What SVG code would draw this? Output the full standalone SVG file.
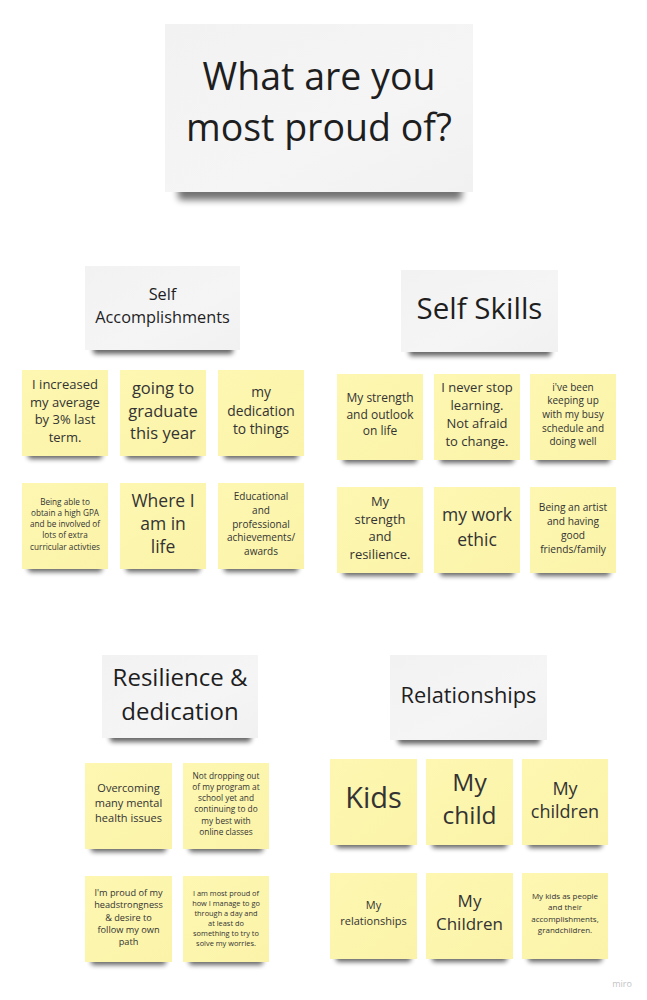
<svg xmlns="http://www.w3.org/2000/svg" width="647" height="1000" viewBox="0 0 647 1000">
<defs>
<filter id="blur" x="-20%" y="-100%" width="140%" height="300%"><feGaussianBlur stdDeviation="2.5"/></filter>
<filter id="blur2" x="-20%" y="-100%" width="140%" height="300%"><feGaussianBlur stdDeviation="3.5"/></filter>
<linearGradient id="cardg" x1="0" y1="0" x2="1" y2="1"><stop offset="0" stop-color="#f2f2f3"/><stop offset="0.6" stop-color="#f5f5f6"/><stop offset="1" stop-color="#f1f1f2"/></linearGradient>
<linearGradient id="noteg" x1="0" y1="0" x2="1" y2="1"><stop offset="0" stop-color="#fdf7b2"/><stop offset="1" stop-color="#fbf3a8"/></linearGradient>
</defs>
<style>
text{font-family:'Open Sans','Liberation Sans',sans-serif;text-anchor:middle;fill:#333333}
.card{fill:url(#cardg)}
.note{fill:url(#noteg)}
.sh{fill:#000;opacity:.6;filter:url(#blur)}
.shc{fill:#000;opacity:.55;filter:url(#blur2)}
.ht{fill:#1e1e1e}
</style>
<rect width="647" height="1000" fill="#ffffff"/>
<g id="connectors"/>

<g id="title">
<rect class="shc" x="178" y="180" width="284" height="20" rx="4"/>
<rect class="card" x="165" y="24" width="308" height="168"/>
<text class="ht" font-size="37.5" x="319" y="90">What are you<tspan x="319" dy="50.7">most proud of?</tspan></text>
</g>

<g id="hdr-self-accomplishments">
<rect class="sh" x="93" y="342" width="140" height="12" rx="3"/>
<rect class="card" x="85" y="266" width="155" height="84"/>
<text class="ht" font-size="16.3" x="162.5" y="300">Self<tspan x="162.5" dy="22.7">Accomplishments</tspan></text>
</g>

<g id="hdr-self-skills">
<rect class="sh" x="409" y="344" width="142" height="12" rx="3"/>
<rect class="card" x="401" y="270" width="157" height="82"/>
<text class="ht" font-size="29.5" x="479.5" y="319">Self Skills</text>
</g>

<g id="hdr-resilience">
<rect class="sh" x="110" y="730" width="141" height="12" rx="3"/>
<rect class="card" x="102" y="655" width="156" height="83"/>
<text class="ht" font-size="24" x="180" y="686">Resilience &amp;<tspan x="180" dy="34">dedication</tspan></text>
</g>

<g id="hdr-relationships">
<rect class="sh" x="398" y="732" width="142" height="12" rx="3"/>
<rect class="card" x="390" y="655" width="157" height="85"/>
<text class="ht" font-size="21.8" x="468.5" y="703">Relationships</text>
</g>

<!-- Self Accomplishments notes -->
<g id="n-sa1">
<rect class="sh" x="28" y="449" width="74" height="10" rx="3"/>
<rect class="note" x="22" y="370" width="86" height="86"/>
<text font-size="13" x="65" y="388.7">I increased<tspan x="65" dy="17.8">my average</tspan><tspan x="65" dy="17.8">by 3% last</tspan><tspan x="65" dy="17.8">term.</tspan></text>
</g>
<g id="n-sa2">
<rect class="sh" x="126" y="449" width="74" height="10" rx="3"/>
<rect class="note" x="120" y="370" width="86" height="86"/>
<text font-size="16.5" x="163" y="394">going to<tspan x="163" dy="22.5">graduate</tspan><tspan x="163" dy="22.5">this year</tspan></text>
</g>
<g id="n-sa3">
<rect class="sh" x="224" y="449" width="74" height="10" rx="3"/>
<rect class="note" x="218" y="370" width="86" height="86"/>
<text font-size="13.8" x="261" y="397">my<tspan x="261" dy="18.5">dedication</tspan><tspan x="261" dy="18.5">to things</tspan></text>
</g>
<g id="n-sa4">
<rect class="sh" x="28" y="562" width="74" height="10" rx="3"/>
<rect class="note" x="22" y="483" width="86" height="86"/>
<text font-size="8.2" x="65" y="504.5">Being able to<tspan x="65" dy="11.3">obtain a high GPA</tspan><tspan x="65" dy="11.3">and be involved of</tspan><tspan x="65" dy="11.3">lots of extra</tspan><tspan x="65" dy="11.3">curricular activties</tspan></text>
</g>
<g id="n-sa5">
<rect class="sh" x="126" y="562" width="74" height="10" rx="3"/>
<rect class="note" x="120" y="483" width="86" height="86"/>
<text font-size="17.5" x="163" y="506.7">Where I<tspan x="163" dy="23">am in</tspan><tspan x="163" dy="23">life</tspan></text>
</g>
<g id="n-sa6">
<rect class="sh" x="224" y="562" width="74" height="10" rx="3"/>
<rect class="note" x="218" y="483" width="86" height="86"/>
<text font-size="10" x="261" y="500">Educational<tspan x="261" dy="13.8">and</tspan><tspan x="261" dy="13.8">professional</tspan><tspan x="261" dy="13.8">achievements/</tspan><tspan x="261" dy="13.8">awards</tspan></text>
</g>

<!-- Self Skills notes -->
<g id="n-ss1">
<rect class="sh" x="343" y="453" width="74" height="10" rx="3"/>
<rect class="note" x="337" y="374" width="86" height="86"/>
<text font-size="12" x="380" y="402">My strength<tspan x="380" dy="16.5">and outlook</tspan><tspan x="380" dy="16.5">on life</tspan></text>
</g>
<g id="n-ss2">
<rect class="sh" x="440" y="453" width="74" height="10" rx="3"/>
<rect class="note" x="434" y="374" width="86" height="86"/>
<text font-size="13" x="477" y="392">I never stop<tspan x="477" dy="18">learning.</tspan><tspan x="477" dy="18">Not afraid</tspan><tspan x="477" dy="18">to change.</tspan></text>
</g>
<g id="n-ss3">
<rect class="sh" x="536" y="453" width="74" height="10" rx="3"/>
<rect class="note" x="530" y="374" width="86" height="86"/>
<text font-size="10" x="573" y="390.5">i've been<tspan x="573" dy="13.7">keeping up</tspan><tspan x="573" dy="13.7">with my busy</tspan><tspan x="573" dy="13.7">schedule and</tspan><tspan x="573" dy="13.7">doing well</tspan></text>
</g>
<g id="n-ss4">
<rect class="sh" x="343" y="566" width="74" height="10" rx="3"/>
<rect class="note" x="337" y="487" width="86" height="86"/>
<text font-size="13" x="380" y="506">My<tspan x="380" dy="17.7">strength</tspan><tspan x="380" dy="17.7">and</tspan><tspan x="380" dy="17.7">resilience.</tspan></text>
</g>
<g id="n-ss5">
<rect class="sh" x="440" y="566" width="74" height="10" rx="3"/>
<rect class="note" x="434" y="487" width="86" height="86"/>
<text font-size="17.5" x="477" y="520.5">my work<tspan x="477" dy="25.5">ethic</tspan></text>
</g>
<g id="n-ss6">
<rect class="sh" x="536" y="566" width="74" height="10" rx="3"/>
<rect class="note" x="530" y="487" width="86" height="86"/>
<text font-size="10.2" x="573" y="510.5">Being an artist<tspan x="573" dy="14">and having</tspan><tspan x="573" dy="14">good</tspan><tspan x="573" dy="14">friends/family</tspan></text>
</g>

<!-- Resilience notes -->
<g id="n-rd1">
<rect class="sh" x="91" y="842" width="75" height="10" rx="3"/>
<rect class="note" x="85" y="763" width="87" height="86"/>
<text font-size="11" x="128.5" y="792">Overcoming<tspan x="128.5" dy="15">many mental</tspan><tspan x="128.5" dy="15">health issues</tspan></text>
</g>
<g id="n-rd2">
<rect class="sh" x="189" y="842" width="74" height="10" rx="3"/>
<rect class="note" x="183" y="763" width="86" height="86"/>
<text font-size="8.3" x="226" y="778.5">Not dropping out<tspan x="226" dy="11.3">of my program at</tspan><tspan x="226" dy="11.3">school yet and</tspan><tspan x="226" dy="11.3">continuing to do</tspan><tspan x="226" dy="11.3">my best with</tspan><tspan x="226" dy="11.3">online classes</tspan></text>
</g>
<g id="n-rd3">
<rect class="sh" x="91" y="955" width="75" height="10" rx="3"/>
<rect class="note" x="85" y="876" width="87" height="86"/>
<text font-size="9.2" x="128.5" y="896">I'm proud of my<tspan x="128.5" dy="12.3">headstrongness</tspan><tspan x="128.5" dy="12.3">&amp; desire to</tspan><tspan x="128.5" dy="12.3">follow my own</tspan><tspan x="128.5" dy="12.3">path</tspan></text>
</g>
<g id="n-rd4">
<rect class="sh" x="189" y="955" width="74" height="10" rx="3"/>
<rect class="note" x="183" y="876" width="86" height="86"/>
<text font-size="7.4" x="226" y="895.5">I am most proud of<tspan x="226" dy="10">how I manage to go</tspan><tspan x="226" dy="10">through a day and</tspan><tspan x="226" dy="10">at least do</tspan><tspan x="226" dy="10">something to try to</tspan><tspan x="226" dy="10">solve my worries.</tspan></text>
</g>

<!-- Relationships notes -->
<g id="n-rl1">
<rect class="sh" x="336" y="838" width="75" height="10" rx="3"/>
<rect class="note" x="330" y="759" width="87" height="86"/>
<text font-size="29" x="373.5" y="808.3">Kids</text>
</g>
<g id="n-rl2">
<rect class="sh" x="432" y="838" width="75" height="10" rx="3"/>
<rect class="note" x="426" y="759" width="87" height="86"/>
<text font-size="24.5" x="469.5" y="790.7">My<tspan x="469.5" dy="33.3">child</tspan></text>
</g>
<g id="n-rl3">
<rect class="sh" x="528" y="838" width="74" height="10" rx="3"/>
<rect class="note" x="522" y="759" width="86" height="86"/>
<text font-size="18" x="565" y="795">My<tspan x="565" dy="22.8">children</tspan></text>
</g>
<g id="n-rl4">
<rect class="sh" x="336" y="952" width="75" height="10" rx="3"/>
<rect class="note" x="330" y="873" width="87" height="86"/>
<text font-size="11" x="373.5" y="909">My<tspan x="373.5" dy="15.7">relationships</tspan></text>
</g>
<g id="n-rl5">
<rect class="sh" x="432" y="952" width="75" height="10" rx="3"/>
<rect class="note" x="426" y="873" width="87" height="86"/>
<text font-size="17" x="469.5" y="906.7">My<tspan x="469.5" dy="23.3">Children</tspan></text>
</g>
<g id="n-rl6">
<rect class="sh" x="528" y="952" width="74" height="10" rx="3"/>
<rect class="note" x="522" y="873" width="86" height="86"/>
<text font-size="8" x="565" y="899">My kids as people<tspan x="565" dy="11.4">and their</tspan><tspan x="565" dy="11.4">accomplishments,</tspan><tspan x="565" dy="11.4">grandchildren.</tspan></text>
</g>

<text x="622" y="987" font-size="9" style="fill:#c4c4c4">miro</text>
</svg>
